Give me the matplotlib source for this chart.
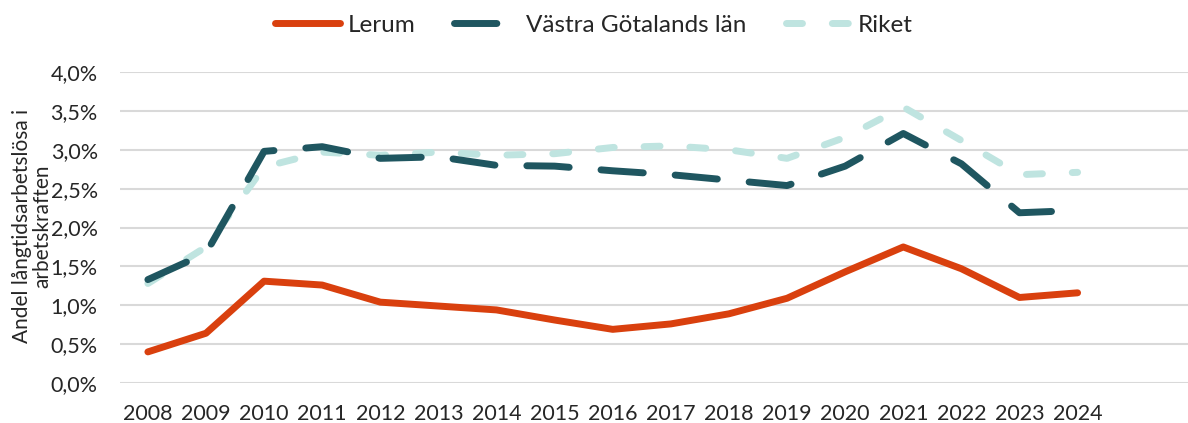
import matplotlib
matplotlib.use("Agg")
import matplotlib.pyplot as plt
from matplotlib.ticker import FuncFormatter

years = list(range(2008, 2025))
lerum = [0.40, 0.64, 1.31, 1.26, 1.04, 0.99, 0.94, 0.81, 0.69, 0.76, 0.89, 1.09, 1.43, 1.75, 1.47, 1.10, 1.16]
vg = [1.33, 1.67, 2.98, 3.04, 2.89, 2.91, 2.80, 2.79, 2.73, 2.68, 2.61, 2.54, 2.79, 3.21, 2.82, 2.19, 2.22]
riket = [1.28, 1.75, 2.78, 2.97, 2.93, 2.97, 2.93, 2.95, 3.03, 3.05, 3.00, 2.89, 3.16, 3.55, 3.12, 2.68, 2.71]
yticks = [0, 0.5, 1.0, 1.5, 2.0, 2.5, 3.0, 3.5, 4.0]

plt.rcParams['font.family'] = ['Lato', 'DejaVu Sans']

fig = plt.figure(figsize=(11.88, 4.23), dpi=100)
ax = fig.add_axes([0.101, 0.0946, 0.899, 0.735])

lw = 5.0
ax.plot(years, lerum, color='#D9400E', lw=lw, solid_capstyle='round', solid_joinstyle='round',
        label='Lerum', zorder=3)
ax.plot(years, vg, color='#1F5660', lw=lw, dashes=(6.1, 4.6), dash_capstyle='round',
        dash_joinstyle='round', label='Västra Götalands län', zorder=2)
ax.plot(years, riket, color='#BFE4E0', lw=lw, dashes=(2.3, 4.3), dash_capstyle='round',
        dash_joinstyle='round', label='Riket', zorder=1)

ax.set_ylim(0, 4.0)
ax.set_xlim(2007.52, 2025.9)
ax.set_yticks(yticks)
ax.yaxis.set_major_formatter(FuncFormatter(lambda v, p: f"{v:.1f}%".replace('.', ',')))
ax.set_xticks(years)
ax.set_xticklabels([str(y) for y in years])
ax.grid(axis='y', color='#D9D9D9', lw=1.5)
ax.set_axisbelow(True)
for s in ax.spines.values():
    s.set_visible(False)
ax.tick_params(axis='both', length=0, labelsize=15.5, labelcolor='#262626')
ax.tick_params(axis='y', pad=16)
ax.tick_params(axis='x', pad=15)

fig.text(0.027, 0.465, 'Andel långtidsarbetslösa i\narbetskraften', rotation=90,
         ha='center', va='center', fontsize=15, color='#262626',
         linespacing=1.05)

leg = fig.legend(loc='center', bbox_to_anchor=(0.5, 0.94), ncol=3, frameon=False,
                 fontsize=17.5, handlelength=2.67, handletextpad=0.3, columnspacing=1.6)
for t in leg.get_texts():
    t.set_color('#262626')

fig.savefig('out.png', dpi=100)
